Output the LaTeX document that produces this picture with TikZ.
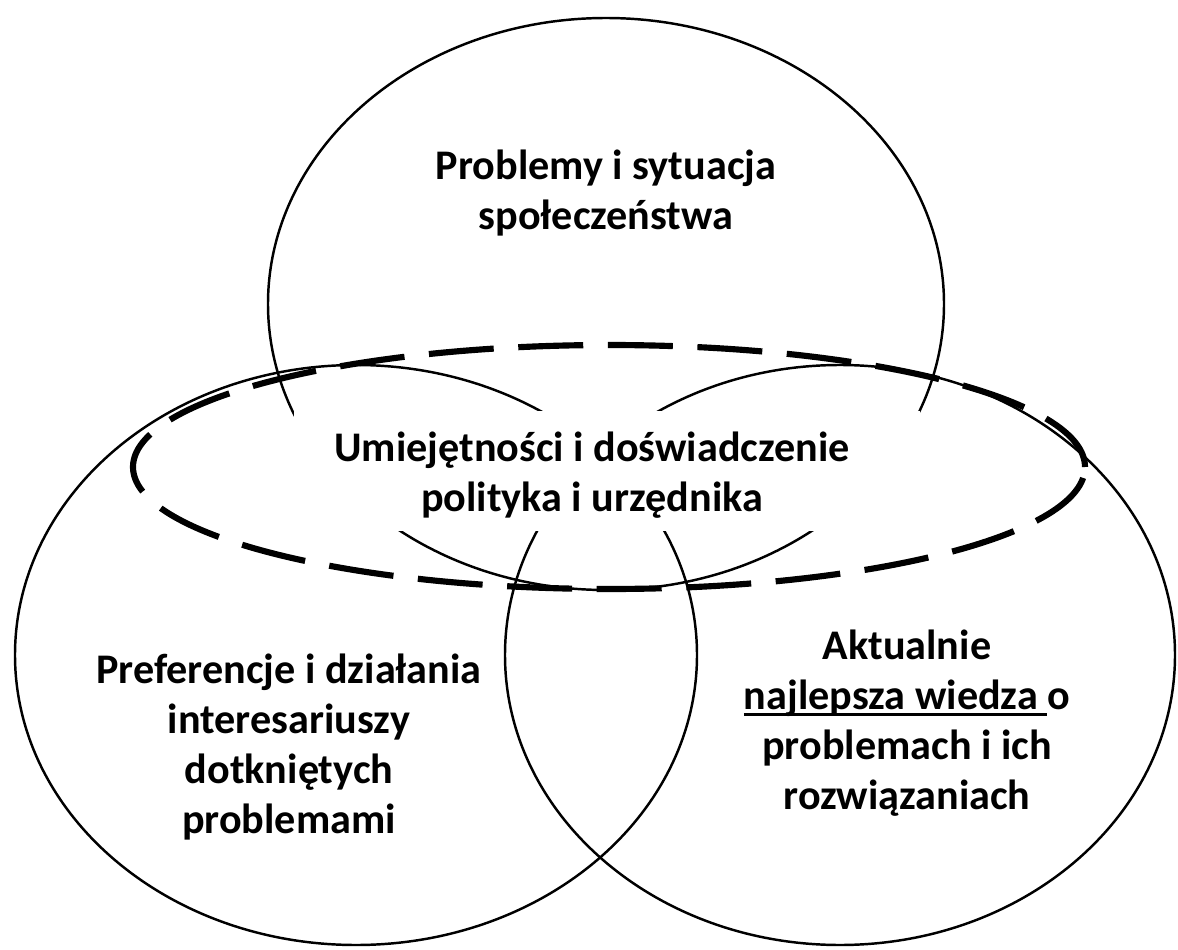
\documentclass[tikz,border=0pt]{standalone}
\usepackage{fontspec}
\setmainfont{Carlito}
\newcommand\ulin[1]{\setbox0\hbox{#1}\rlap{\rule[-3.6pt]{\wd0}{1.6pt}}\box0}
\tikzset{
  ring/.style={draw, line width=1.4pt},
  core/.style={draw, line width=3.5pt, dash pattern=on 37pt off 14pt},
  txt/.style={align=center, font=\fontsize{24}{28.5}\selectfont\bfseries},
}
\begin{document}
\begin{tikzpicture}[x=0.02cm, y=0.02cm]
  \useasboundingbox (0,0) rectangle (1178,-950);
  % the three circles
  \draw[ring] (606,-304) ellipse [x radius=338, y radius=286];
  \draw[ring] (356,-655) ellipse [x radius=341, y radius=290];
  \draw[ring] (840,-655) ellipse [x radius=335, y radius=290];
  % white box of the centre text cuts the lines
  \fill[white] (294,-411) rectangle (920,-531);
  \node[txt] at (592,-475) (skills) {Umiejętności i doświadczenie\\polityka i urzędnika};
  \draw[core] (609,-467) ellipse [x radius=476, y radius=122];
  \node[txt] at (606,-193) (society) {Problemy i sytuacja\\społeczeństwa};
  \node[txt] at (289,-747) (stakeholders) {Preferencje i działania\\interesariuszy\\dotkniętych\\problemami};
  \node[txt] at (907,-723) (knowledge) {Aktualnie\\\ulin{najlepsza wiedza\ }o\\problemach i ich\\rozwiązaniach};
\end{tikzpicture}
\end{document}
